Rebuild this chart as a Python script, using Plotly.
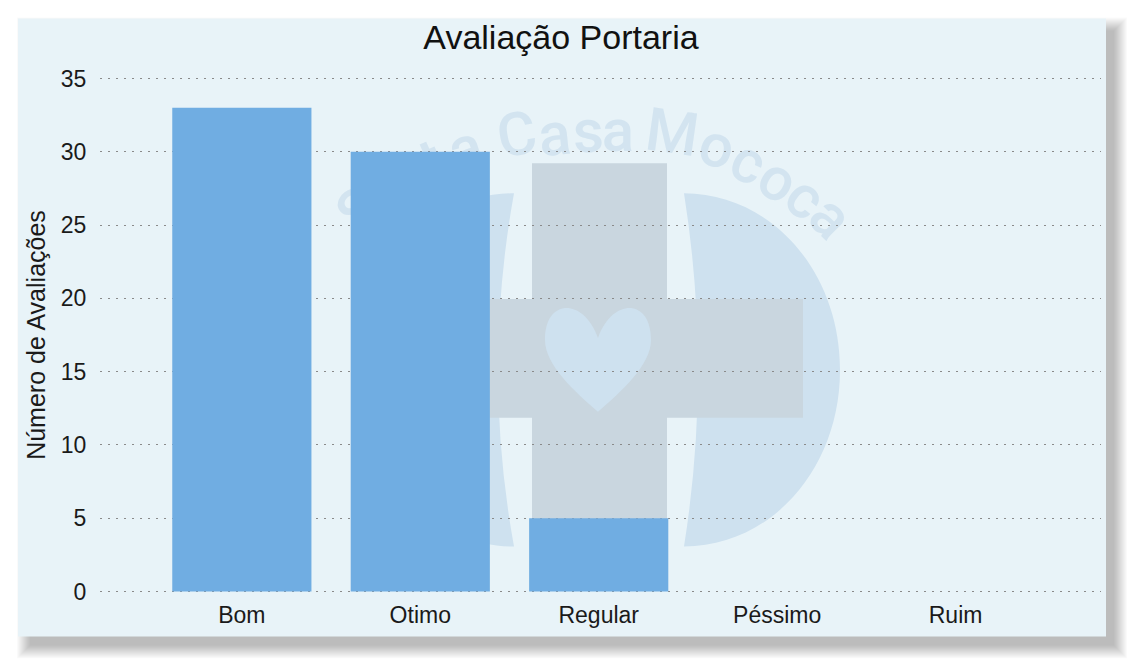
import plotly.graph_objects as go

categories = ["Bom", "Otimo", "Regular", "Péssimo", "Ruim"]
values = [33, 30, 5, 0, 0]
y_ticks = [0, 5, 10, 15, 20, 25, 30, 35]
title_text = "Avaliação Portaria"
y_title = "Número de Avaliações"

W, H = 1130, 664
L, R, T, B = 100, 1101, 76.5, 593.5


def X(px):
    return (px - L) / (R - L)


def Y(py):
    return (B - py) / (B - T)


def rect(x0, y0, x1, y1, color, opacity=1.0):
    return dict(type="rect", xref="paper", yref="paper", layer="below",
                x0=X(x0), x1=X(x1), y0=Y(y0), y1=Y(y1),
                fillcolor=color, opacity=opacity, line=dict(width=0))


def path(cmds, color):
    out = []
    for c in cmds:
        if isinstance(c, str):
            out.append(c)
        else:
            out.append(f"{X(c[0]):.5f},{Y(c[1]):.5f}")
    return dict(type="path", xref="paper", yref="paper", layer="below",
                path=" ".join(out), fillcolor=color, line=dict(width=0))


shapes = []
# drop shadow
for i in range(14):
    shapes.append(rect(17 + i, 17 + i, 1127 - i, 659 - i, "#000000", 0.02))
# panel
shapes.append(rect(18, 18, 1106, 637, "#e8f3f8"))

# watermark: D-shaped halves
D_COL = "#cee1ef"
shapes.append(path(["M", (684, 193), "C", (770, 193), (840, 270), (840, 370),
                    "C", (840, 470), (770, 547), (684, 547),
                    "Q", (712, 370), (684, 193), "Z"], D_COL))
shapes.append(path(["M", (514, 193), "C", (428, 193), (356, 270), (356, 370),
                    "C", (356, 470), (428, 547), (514, 547),
                    "Q", (482, 370), (514, 193), "Z"], D_COL))
# watermark: cross
shapes.append(rect(532, 163, 667, 552, "#c9d6df"))
shapes.append(rect(395, 299, 803, 418, "#c9d6df"))
# watermark: heart
shapes.append(path(["M", (598, 338), "C", (590, 315), (575, 307), (565, 308),
                    "C", (550, 310), (545, 325), (545, 340),
                    "C", (545, 365), (575, 392), (598, 412),
                    "C", (621, 392), (651, 365), (651, 340),
                    "C", (651, 325), (646, 310), (631, 308),
                    "C", (621, 307), (606, 315), (598, 338), "Z"], "#cee1ef"))
# watermark: curved lettering
letters = [("S", 356, 207, -40), ("a", 378, 190, -35), ("n", 402, 173, -28),
           ("t", 430, 156, -24), ("a", 464, 144, -18),
           ("C", 516, 130, -10), ("a", 554, 130, -6), ("s", 588, 127, -3), ("a", 618, 126, 0),
           ("M", 673, 128, 8), ("o", 718, 142, 15), ("c", 750, 158, 24),
           ("o", 780, 176, 30), ("c", 808, 194, 38), ("a", 834, 214, 45)]
for ch, lx, ly, ang in letters:
    shapes.append(dict(type="rect", xref="paper", yref="paper", layer="below",
                       x0=X(lx - 30), x1=X(lx + 30), y0=Y(ly + 30), y1=Y(ly - 30),
                       fillcolor="rgba(0,0,0,0)", line=dict(width=0),
                       label=dict(text=ch, textangle=ang, textposition="middle center",
                                  font=dict(family="Roboto", weight=500, size=60, color="#d3e4f0"))))

fig = go.Figure(go.Bar(x=categories, y=values, marker=dict(color="#70ade2", line=dict(width=0)),
                       hoverinfo="skip"))

fig.update_layout(
    width=W, height=H,
    margin=dict(l=L, r=W - R, t=T, b=H - B, pad=0),
    paper_bgcolor="#ffffff",
    plot_bgcolor="rgba(0,0,0,0)",
    bargap=0.22,
    showlegend=False,
    shapes=shapes,
    font=dict(family="Liberation Sans", color="#1a1a1a"),
    title=dict(text=title_text, x=561 / W, xref="container", xanchor="center",
               y=1 - 37 / H, yref="container", yanchor="middle",
               font=dict(size=34, color="#111111")),
    xaxis=dict(type="category", range=[-0.795, 4.815], showgrid=False, zeroline=False, showline=False,
               ticks="outside", ticklen=1, tickcolor="rgba(0,0,0,0)",
               tickfont=dict(size=23, color="#1a1a1a"), automargin=False),
    yaxis=dict(range=[-0.1, 35.1], tickvals=y_ticks, showgrid=True, gridcolor="#8a8a8a", gridwidth=1,
               griddash="2px,6px", zeroline=False, showline=False,
               ticks="outside", ticklen=8, tickcolor="rgba(0,0,0,0)",
               tickfont=dict(size=23, color="#1a1a1a"), automargin=False,
               title=dict(text=y_title, standoff=8, font=dict(size=25, color="#1a1a1a"))),
)

fig.write_html("out.html", post_script="document.body.style.margin='0';document.documentElement.style.overflow='hidden';",
               config=dict(displayModeBar=False))
